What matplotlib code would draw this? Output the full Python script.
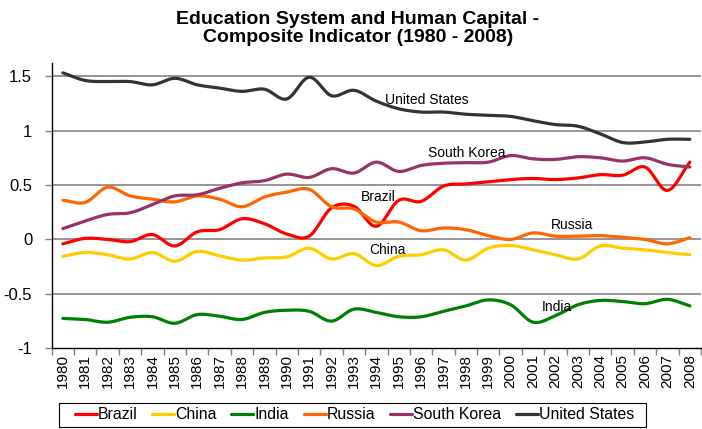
import matplotlib
matplotlib.use("Agg")
import matplotlib.pyplot as plt
from matplotlib.patches import Rectangle
import numpy as np

plt.rcParams['font.family'] = ['Liberation Sans', 'DejaVu Sans']

years = list(range(1980, 2009))

brazil = [-0.04, 0.01, 0.00, -0.02, 0.045, -0.06, 0.07, 0.09, 0.19, 0.145,
          0.05, 0.03, 0.29, 0.305, 0.12, 0.36, 0.35, 0.49, 0.51, 0.53,
          0.55, 0.56, 0.55, 0.565, 0.595, 0.59, 0.665, 0.45, 0.71]
china = [-0.155, -0.12, -0.14, -0.18, -0.12, -0.20, -0.11, -0.15, -0.19, -0.17,
         -0.16, -0.08, -0.18, -0.13, -0.24, -0.155, -0.14, -0.095, -0.19, -0.08,
         -0.055, -0.095, -0.14, -0.18, -0.06, -0.08, -0.095, -0.12, -0.14]
india = [-0.725, -0.735, -0.76, -0.715, -0.71, -0.77, -0.69, -0.705, -0.735, -0.67,
         -0.65, -0.66, -0.75, -0.64, -0.67, -0.71, -0.71, -0.66, -0.61, -0.555,
         -0.60, -0.76, -0.70, -0.60, -0.56, -0.57, -0.59, -0.55, -0.61]
russia = [0.36, 0.34, 0.48, 0.40, 0.37, 0.345, 0.40, 0.37, 0.30, 0.39,
          0.435, 0.46, 0.30, 0.28, 0.16, 0.16, 0.08, 0.105, 0.09, 0.035,
          0.00, 0.06, 0.03, 0.03, 0.035, 0.02, 0.00, -0.04, 0.015]
south_korea = [0.10, 0.17, 0.23, 0.245, 0.32, 0.40, 0.41, 0.47, 0.52, 0.54,
               0.60, 0.57, 0.65, 0.61, 0.71, 0.625, 0.68, 0.70, 0.705, 0.71,
               0.77, 0.74, 0.735, 0.76, 0.75, 0.72, 0.75, 0.69, 0.665]
united_states = [1.53, 1.46, 1.45, 1.45, 1.42, 1.48, 1.42, 1.39, 1.36, 1.38,
                 1.29, 1.49, 1.32, 1.37, 1.27, 1.20, 1.17, 1.17, 1.15, 1.14,
                 1.13, 1.09, 1.055, 1.04, 0.97, 0.89, 0.895, 0.92, 0.92]

series = [
    ("Brazil", brazil, "#FF0000"),
    ("China", china, "#FFCC00"),
    ("India", india, "#008000"),
    ("Russia", russia, "#FF6600"),
    ("South Korea", south_korea, "#993366"),
    ("United States", united_states, "#333333"),
]

# in-chart labels: (text, x index, y value)
labels = [
    ("United States", 14.4, 1.28),
    ("South Korea", 16.3, 0.79),
    ("Brazil", 13.3, 0.39),
    ("Russia", 21.8, 0.13),
    ("China", 13.7, -0.10),
    ("India", 21.4, -0.62),
]


def smooth(x, y, n=12):
    # Catmull-Rom spline through the points, like Excel's smoothed line
    x = np.asarray(x, float)
    y = np.asarray(y, float)
    px = np.concatenate([[2 * x[0] - x[1]], x, [2 * x[-1] - x[-2]]])
    py = np.concatenate([[2 * y[0] - y[1]], y, [2 * y[-1] - y[-2]]])
    t = np.linspace(0, 1, n, endpoint=False)
    xs, ys = [], []
    for i in range(1, len(px) - 2):
        for p, out in ((px, xs), (py, ys)):
            p0, p1, p2, p3 = p[i - 1], p[i], p[i + 1], p[i + 2]
            out.extend(0.5 * (2 * p1 + (-p0 + p2) * t
                              + (2 * p0 - 5 * p1 + 4 * p2 - p3) * t ** 2
                              + (-p0 + 3 * p1 - 3 * p2 + p3) * t ** 3))
    xs.append(x[-1])
    ys.append(y[-1])
    return np.array(xs), np.array(ys)


fig = plt.figure(figsize=(7.02, 4.29), dpi=100)
ax = fig.add_axes([0.0736, 0.188, 0.925, 0.664])

idx = np.arange(len(years))
for name, vals, col in series:
    sx, sy = smooth(idx, vals)
    ax.plot(sx, sy, color=col, lw=2.3, label=name, solid_capstyle='round')

for text, lx, ly in labels:
    ax.text(lx, ly, text, fontsize=10, ha='left', va='center', color='black')

ax.set_xlim(-0.5, len(years) - 0.5)
ax.set_ylim(-1, 1.616)
ax.set_yticks([-1, -0.5, 0, 0.5, 1, 1.5])
ax.set_yticklabels(['-1', '-0.5', '0', '0.5', '1', '1.5'], fontsize=12)
for v in [-0.5, 0, 0.5, 1, 1.5]:
    ax.axhline(v, color='#8c8c8c', lw=1.3, zorder=0)

ax.set_xticks(idx)
ax.set_xticklabels([str(y) for y in years], rotation=90, fontsize=11)
ax.tick_params(axis='x', length=0, pad=4)
ax.set_xticks(np.arange(-0.5, len(years), 1), minor=True)
ax.tick_params(axis='x', which='minor', length=5, width=1, color='#808080', direction='out')
ax.tick_params(axis='y', length=5, width=1, color='#808080', direction='out', pad=9)

for s in ['top', 'right']:
    ax.spines[s].set_visible(False)
for s in ['left', 'bottom']:
    ax.spines[s].set_color('black')
    ax.spines[s].set_linewidth(1)

fig.text(0.51, 0.975, "Education System and Human Capital -\nComposite Indicator (1980 - 2008)",
         ha='center', va='top', fontsize=14, fontweight='bold', linespacing=1.1)

# legend entries without frame, box drawn separately (wider side padding)
fig.legend(loc='center', bbox_to_anchor=(0.505, 0.0333), ncol=6, fontsize=11.4,
           frameon=False, handlelength=1.4, handletextpad=0.08, columnspacing=0.9,
           borderpad=0.15, borderaxespad=0)
fig.patches.append(Rectangle((59 / 702, 2.5 / 429), 587 / 702, 23.5 / 429,
                             transform=fig.transFigure, fill=False,
                             edgecolor='black', lw=0.8))

fig.savefig("out.png", dpi=100)
